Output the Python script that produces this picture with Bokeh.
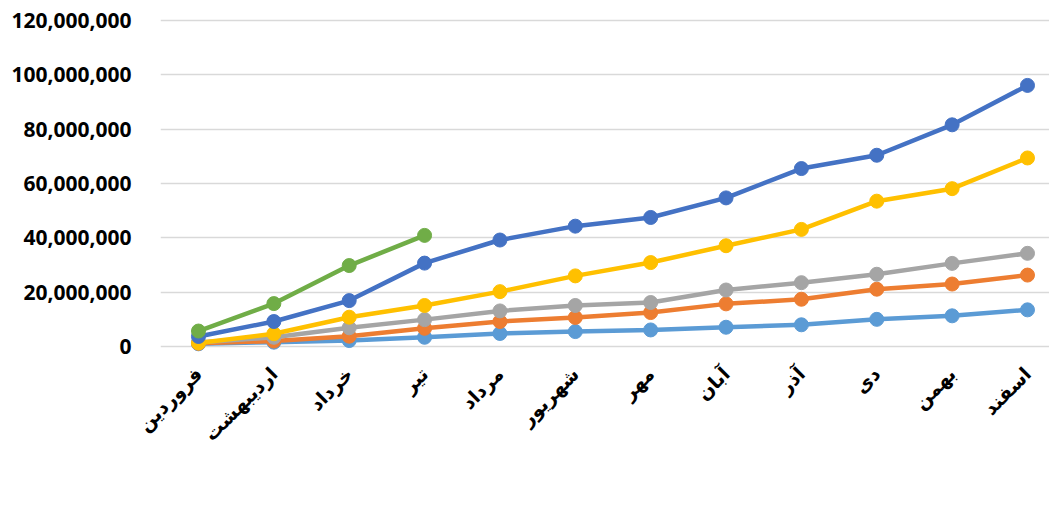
import math
from bokeh.plotting import figure
from bokeh.models import (Range1d, FixedTicker, NumeralTickFormatter, Legend, LegendItem)
from bokeh.embed import file_html
from bokeh.resources import INLINE

months = ["فروردین", "اردیبهشت", "خرداد", "تیر", "مرداد", "شهریور",
          "مهر", "آبان", "آذر", "دی", "بهمن", "اسفند"]

y1396 = [1.0e6, 1.6e6, 2.2e6, 3.4e6, 4.8e6, 5.5e6, 6.1e6, 7.1e6, 8.0e6, 10.0e6, 11.3e6, 13.5e6]
y1397 = [1.2e6, 2.0e6, 3.8e6, 6.7e6, 9.2e6, 10.7e6, 12.5e6, 15.7e6, 17.4e6, 21.1e6, 23.0e6, 26.3e6]
y1398 = [1.5e6, 3.4e6, 6.9e6, 9.9e6, 13.1e6, 15.1e6, 16.2e6, 20.8e6, 23.5e6, 26.6e6, 30.6e6, 34.3e6]
y1399 = [1.3e6, 4.7e6, 10.8e6, 15.1e6, 20.2e6, 26.0e6, 30.9e6, 37.1e6, 43.1e6, 53.5e6, 58.1e6, 69.4e6]
y1400 = [3.7e6, 9.2e6, 16.9e6, 30.7e6, 39.2e6, 44.3e6, 47.5e6, 54.7e6, 65.5e6, 70.4e6, 81.6e6, 96.1e6]
y1401 = [5.7e6, 15.8e6, 29.8e6, 40.9e6]

series_names = ["۱۳۹۶", "۱۳۹۷", "۱۳۹۸", "۱۳۹۹", "۱۴۰۰", "۱۴۰۱"]
series_values = [y1396, y1397, y1398, y1399, y1400, y1401]
colors = ["#5B9BD5", "#ED7D31", "#A5A5A5", "#FFC000", "#4472C4", "#70AD47"]

yticks = [0, 20e6, 40e6, 60e6, 80e6, 100e6, 120e6]

p = figure(width=1049, height=505, frame_width=889, frame_height=340,
           min_border_left=160, min_border_right=0,
           min_border_top=12, min_border_bottom=0,
           x_range=Range1d(-0.504, 11.292), y_range=Range1d(-2.2e6, 122.94e6),
           output_backend="svg", toolbar_location=None)
p.outline_line_color = None
p.background_fill_color = "white"
p.border_fill_color = "white"

p.xgrid.visible = False
p.ygrid.grid_line_color = "#D9D9D9"
p.ygrid.grid_line_width = 1.3
p.ygrid.ticker = FixedTicker(ticks=yticks)

p.yaxis.ticker = FixedTicker(ticks=yticks)
p.yaxis.formatter = NumeralTickFormatter(format="0,0")
p.yaxis.axis_line_color = None
p.yaxis.major_tick_line_color = None
p.yaxis.minor_tick_line_color = None
p.yaxis.major_tick_out = 0
p.yaxis.minor_tick_out = 0
p.yaxis.major_label_standoff = 29
p.yaxis.major_label_text_font = "Open Sans"
p.yaxis.major_label_text_font_style = "bold"
p.yaxis.major_label_text_font_size = "21px"
p.yaxis.major_label_text_color = "black"

p.xaxis.ticker = FixedTicker(ticks=list(range(len(months))))
p.xaxis.major_label_overrides = {i: m for i, m in enumerate(months)}
p.xaxis.major_label_orientation = math.pi / 4
p.xaxis.axis_line_color = None
p.xaxis.major_tick_line_color = None
p.xaxis.minor_tick_line_color = None
p.xaxis.major_tick_out = 0
p.xaxis.minor_tick_out = 0
p.xaxis.major_label_standoff = 18
p.xaxis.major_label_text_font = "DejaVu Sans"
p.xaxis.major_label_text_font_style = "bold"
p.xaxis.major_label_text_font_size = "19px"
p.xaxis.major_label_text_color = "black"

items = []
for name, vals, c in zip(series_names, series_values, colors):
    xs = list(range(len(vals)))
    ln = p.line(xs, vals, line_color=c, line_width=4.5)
    sc = p.scatter(xs, vals, size=14, fill_color=c, line_color=c)
    items.append(LegendItem(label=name, renderers=[ln, sc]))

legend = Legend(items=items, orientation="horizontal", location="top_center",
                border_line_color=None, background_fill_alpha=0,
                glyph_width=50, glyph_height=20, label_standoff=7, spacing=28,
                label_width=43,
                label_text_font="DejaVu Sans", label_text_font_style="bold",
                label_text_font_size="18px", label_text_color="black",
                padding=2, margin=26)
p.add_layout(legend, "below")

open("out.html", "w").write(file_html(p, INLINE))
